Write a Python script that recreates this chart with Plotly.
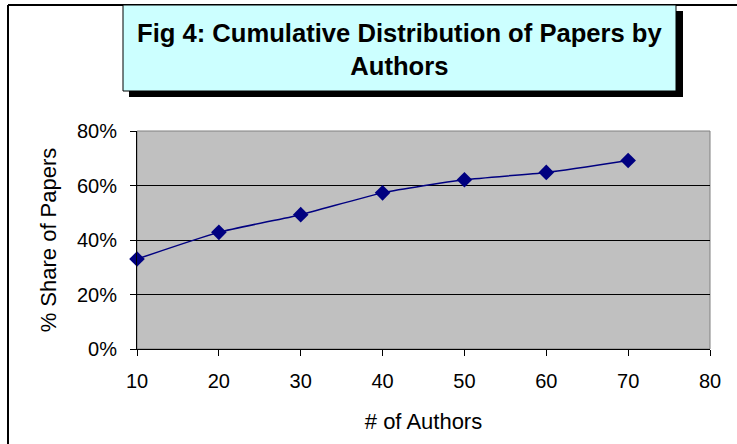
import plotly.graph_objects as go

authors = [10, 20, 30, 40, 50, 60, 70]
share = [0.330, 0.428, 0.493, 0.573, 0.621, 0.648, 0.692]
y_ticks = [0, 0.2, 0.4, 0.6, 0.8]
y_tick_labels = ["0%", "20%", "40%", "60%", "80%"]
x_ticks = [10, 20, 30, 40, 50, 60, 70, 80]
title_lines = ["Fig 4: Cumulative Distribution of Papers by", "Authors"]

W, H = 737, 444
L, R, T, B = 137, 27, 131, 95
PW, PH = W - L - R, H - T - B
FONT = "Liberation Sans, Arial, sans-serif"

def px(x):
    return (x - L) / PW

def py(y):
    return (H - B - y) / PH

fig = go.Figure()
fig.add_trace(go.Scatter(
    x=authors, y=share, mode="lines+markers",
    line=dict(color="#000080", width=1.5, shape="spline", smoothing=0.6),
    marker=dict(symbol="diamond", size=12, color="#000080"),
    showlegend=False, cliponaxis=False,
))

shapes = [
    dict(type="line", xref="paper", yref="paper", x0=px(8), x1=px(8), y0=py(5), y1=py(450),
         line=dict(color="black", width=2)),
    dict(type="line", xref="paper", yref="paper", x0=px(8), x1=px(740), y0=py(5), y1=py(5),
         line=dict(color="black", width=2)),
    dict(type="rect", xref="paper", yref="paper", x0=px(129), x1=px(683), y0=py(97), y1=py(11),
         fillcolor="black", line=dict(width=0)),
    dict(type="rect", xref="paper", yref="paper", x0=px(123), x1=px(676), y0=py(91), y1=py(5),
         fillcolor="#CCFFFF", line=dict(color="black", width=1)),
    dict(type="rect", xref="paper", yref="paper", x0=0, x1=1, y0=0, y1=1,
         line=dict(color="#808080", width=1), layer="below"),
]

fig.update_layout(
    width=W, height=H,
    margin=dict(l=L, r=R, t=T, b=B),
    paper_bgcolor="white",
    plot_bgcolor="#C0C0C0",
    font=dict(family=FONT, size=20, color="black"),
    shapes=shapes,
    annotations=[dict(
        xref="paper", yref="paper", x=px((123 + 676) / 2), y=py(50),
        text="<b>" + title_lines[0] + "</b><br><b>" + title_lines[1] + "</b>",
        showarrow=False, align="center", xanchor="center", yanchor="middle",
        font=dict(family=FONT, size=25.6, color="black"),
    )],
    xaxis=dict(
        range=[10, 80], tickvals=x_ticks, ticks="outside", ticklen=6, tickcolor="black",
        ticklabelstandoff=8,
        showline=True, linecolor="black", linewidth=1, showgrid=False, zeroline=False,
        title=dict(text="# of Authors", standoff=22, font=dict(size=22)),
    ),
    yaxis=dict(
        range=[0, 0.8], tickvals=y_ticks, ticktext=y_tick_labels, ticks="outside", ticklen=6,
        tickcolor="black", ticklabelstandoff=9, showline=True, linecolor="black", linewidth=1,
        showgrid=True, gridcolor="black", gridwidth=1, zeroline=False,
        title=dict(text="% Share of Papers", standoff=14, font=dict(size=22)),
    ),
)

fig.write_html("out.html", config={"displayModeBar": False},
               post_script="document.body.style.margin='0';")
